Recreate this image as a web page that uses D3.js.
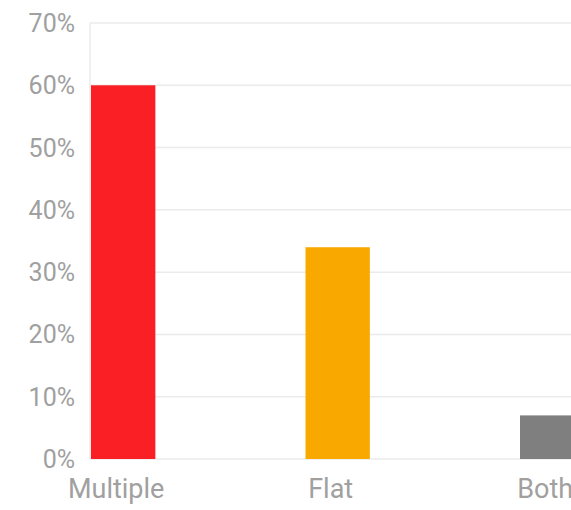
<!DOCTYPE html>
<html><head><meta charset="utf-8">
<script src="https://cdn.jsdelivr.net/npm/d3@7"></script>
<style>
html,body{margin:0;padding:0;background:#fff;overflow:hidden;}
svg{display:block;}
</style></head>
<body>
<script>
const categories = ["Multiple", "Flat", "Both"];
const values = [0.60, 0.34, 0.07];
const colors = ["#F91F25", "#F9A800", "#7F7F7F"];
const yTicks = [0, 0.1, 0.2, 0.3, 0.4, 0.5, 0.6, 0.7];

const W = 571, H = 510;
const mLeft = 90, mTop = 23, mBottom = 459;
const svg = d3.select("body").append("svg").attr("width", W).attr("height", H);

const y = d3.scaleLinear().domain([0, 0.7]).range([mBottom, mTop]);
const x = d3.scaleBand().domain(categories)
  .range([91, 91 + 3 * 214.5])
  .paddingInner(0.7).paddingOuter(0.35).align(0);

// gridlines
svg.append("g").selectAll("line").data(yTicks).join("line")
  .attr("x1", mLeft).attr("x2", W)
  .attr("y1", d => y(d)).attr("y2", d => y(d))
  .attr("stroke", "#EBEBEB").attr("stroke-width", 1.5);

// left axis line
svg.append("line").attr("x1", mLeft).attr("x2", mLeft).attr("y1", mTop).attr("y2", mBottom)
  .attr("stroke", "#EBEBEB").attr("stroke-width", 1.5);

// y tick labels
const fmt = d3.format(".0%");
svg.append("g").selectAll("text").data(yTicks).join("text")
  .attr("x", 75).attr("y", d => y(d) + 9)
  .attr("text-anchor", "end")
  .attr("font-family", "Roboto")
  .attr("font-size", 25)
  .attr("fill", "#A0A0A0")
  .text(d => fmt(d));

// bars
svg.append("g").selectAll("rect").data(categories).join("rect")
  .attr("x", d => x(d))
  .attr("y", (d, i) => y(values[i]))
  .attr("width", x.bandwidth())
  .attr("height", (d, i) => mBottom - y(values[i]))
  .attr("fill", (d, i) => colors[i]);

// x labels
svg.append("g").selectAll("text").data(categories).join("text")
  .attr("x", d => x(d) + x.bandwidth() / 2 - 7)
  .attr("y", 498)
  .attr("text-anchor", "middle")
  .attr("font-family", "Roboto")
  .attr("font-size", 27)
  .attr("fill", "#A0A0A0")
  .text(d => d);
</script>
</body></html>
